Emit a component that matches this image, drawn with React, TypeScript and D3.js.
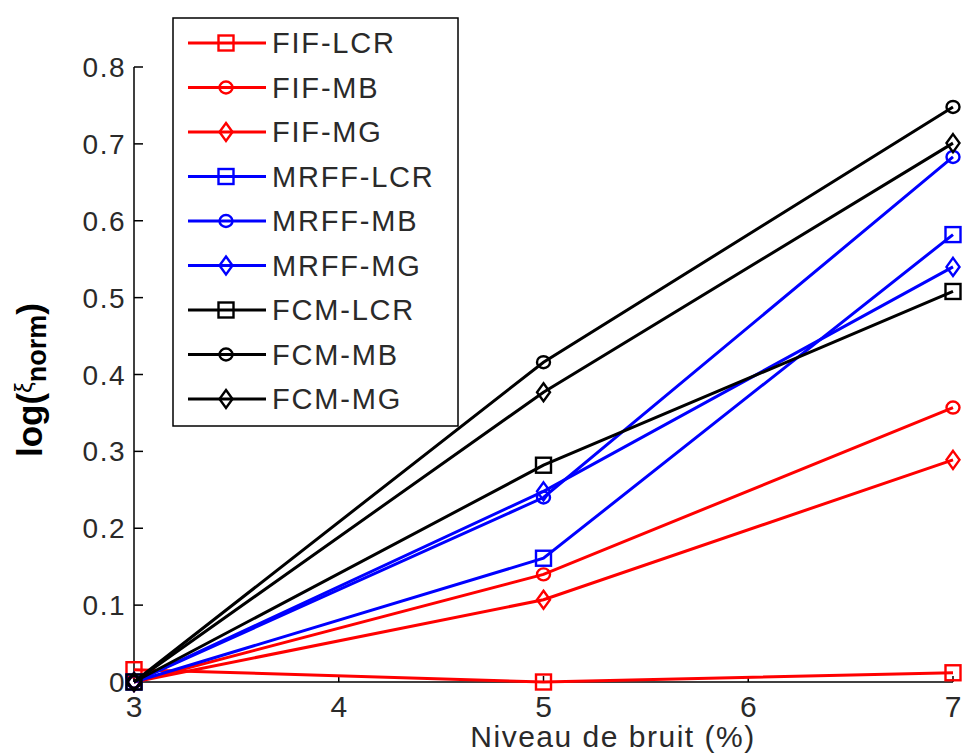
import React from "react";
import * as d3 from "d3";

const xValues = [3, 5, 7];
const seriesNames = ["FIF-LCR", "FIF-MB", "FIF-MG", "MRFF-LCR", "MRFF-MB", "MRFF-MG", "FCM-LCR", "FCM-MB", "FCM-MG"];
const seriesColors = ["#ff0000", "#ff0000", "#ff0000", "#0000ff", "#0000ff", "#0000ff", "#000000", "#000000", "#000000"];
const seriesMarkers = ["square", "circle", "diamond", "square", "circle", "diamond", "square", "circle", "diamond"];
const fifLcr = [0.016, 0.0, 0.012];
const fifMb = [0, 0.14, 0.357];
const fifMg = [0, 0.107, 0.289];
const mrffLcr = [0, 0.161, 0.582];
const mrffMb = [0, 0.24, 0.683];
const mrffMg = [0, 0.248, 0.54];
const fcmLcr = [0, 0.282, 0.508];
const fcmMb = [0, 0.416, 0.748];
const fcmMg = [0, 0.377, 0.701];
const seriesValues = [fifLcr, fifMb, fifMg, mrffLcr, mrffMb, mrffMg, fcmLcr, fcmMb, fcmMg];
const xTicks = [3, 4, 5, 6, 7];
const yTicks = [0, 0.1, 0.2, 0.3, 0.4, 0.5, 0.6, 0.7, 0.8];
const xLabel = "Niveau de bruit (%)";

const FONT = "'Liberation Sans', Arial, Helvetica, sans-serif";
const TXT = "#2a2a2a";

function Marker({ type, x, y, color }: { type: string; x: number; y: number; color: string }) {
  const sw = 2.4;
  if (type === "square") {
    return <rect x={x - 7.5} y={y - 7.5} width={15} height={15} fill="none" stroke={color} strokeWidth={sw} />;
  }
  if (type === "circle") {
    return <ellipse cx={x} cy={y} rx={6.5} ry={6} fill="none" stroke={color} strokeWidth={sw} />;
  }
  const p = `M${x},${y - 9} L${x + 6.5},${y} L${x},${y + 9} L${x - 6.5},${y} Z`;
  return <path d={p} fill="none" stroke={color} strokeWidth={sw} />;
}

export default function App() {
  const W = 964;
  const H = 754;
  const x = d3.scaleLinear().domain([3, 7]).range([134, 953]);
  const y = d3.scaleLinear().domain([0, 0.8]).range([682, 67]);
  const line = d3
    .line<[number, number]>()
    .x((d) => x(d[0]))
    .y((d) => y(d[1]));

  const legendX = 173;
  const legendY = 18;
  const legendW = 285;
  const legendH = 408;
  const rowY = (i: number) => 43 + i * 44.5;

  return (
    <svg
      width={W}
      height={H}
      style={{ position: "absolute", left: 0, top: 0, display: "block", background: "#fff" }}
      fontFamily={FONT}
    >
      <rect x={0} y={0} width={W} height={H} fill="#fff" />
      {/* axes */}
      <line x1={134} y1={67} x2={134} y2={682} stroke="#000" strokeWidth={1.5} />
      <line x1={134} y1={682} x2={953} y2={682} stroke="#000" strokeWidth={1.5} />
      {yTicks.map((t) => (
        <g key={"y" + t}>
          <line x1={134} x2={143} y1={y(t)} y2={y(t)} stroke="#000" strokeWidth={1.5} />
          <text x={126} y={y(t)} dy="0.36em" textAnchor="end" fontSize={28} letterSpacing={1.5} fill={TXT}>
            {t === 0 ? "0" : t.toFixed(1)}
          </text>
        </g>
      ))}
      {xTicks.map((t) => (
        <g key={"x" + t}>
          <line x1={x(t)} x2={x(t)} y1={682} y2={676} stroke="#000" strokeWidth={1.5} />
          <text x={x(t)} y={717} textAnchor="middle" fontSize={30} fill={TXT}>
            {t}
          </text>
        </g>
      ))}
      <text x={613} y={747} textAnchor="middle" fontSize={30} letterSpacing={1.5} fill={TXT}>
        {xLabel}
      </text>
      <text transform="translate(42,380) rotate(-90)" textAnchor="middle" fill="#000" fontWeight="bold" fontSize={35}>
        log(
        <tspan fontWeight="normal" fontSize={24} dy={-10}>ξ</tspan>
        <tspan fontSize={27} dy={14}>norm</tspan>
        <tspan dy={-4}>)</tspan>
      </text>

      {/* series */}
      {seriesValues.map((vals, i) => {
        const pts: [number, number][] = xValues.map((xv, j) => [xv, vals[j]]);
        return (
          <g key={seriesNames[i]}>
            <path d={line(pts) || ""} fill="none" stroke={seriesColors[i]} strokeWidth={3} />
            {pts.map((p, j) => (
              <Marker key={j} type={seriesMarkers[i]} x={x(p[0])} y={y(p[1])} color={seriesColors[i]} />
            ))}
          </g>
        );
      })}

      {/* legend */}
      <rect x={legendX} y={legendY} width={legendW} height={legendH} fill="#fff" stroke="#000" strokeWidth={1.5} />
      {seriesNames.map((name, i) => (
        <g key={"leg" + name}>
          <line x1={188} x2={266} y1={rowY(i)} y2={rowY(i)} stroke={seriesColors[i]} strokeWidth={3} />
          <Marker type={seriesMarkers[i]} x={226} y={rowY(i)} color={seriesColors[i]} />
          <text x={272} y={rowY(i)} dy="0.36em" fontSize={29} letterSpacing={1.8} fill={TXT}>
            {name}
          </text>
        </g>
      ))}
    </svg>
  );
}
